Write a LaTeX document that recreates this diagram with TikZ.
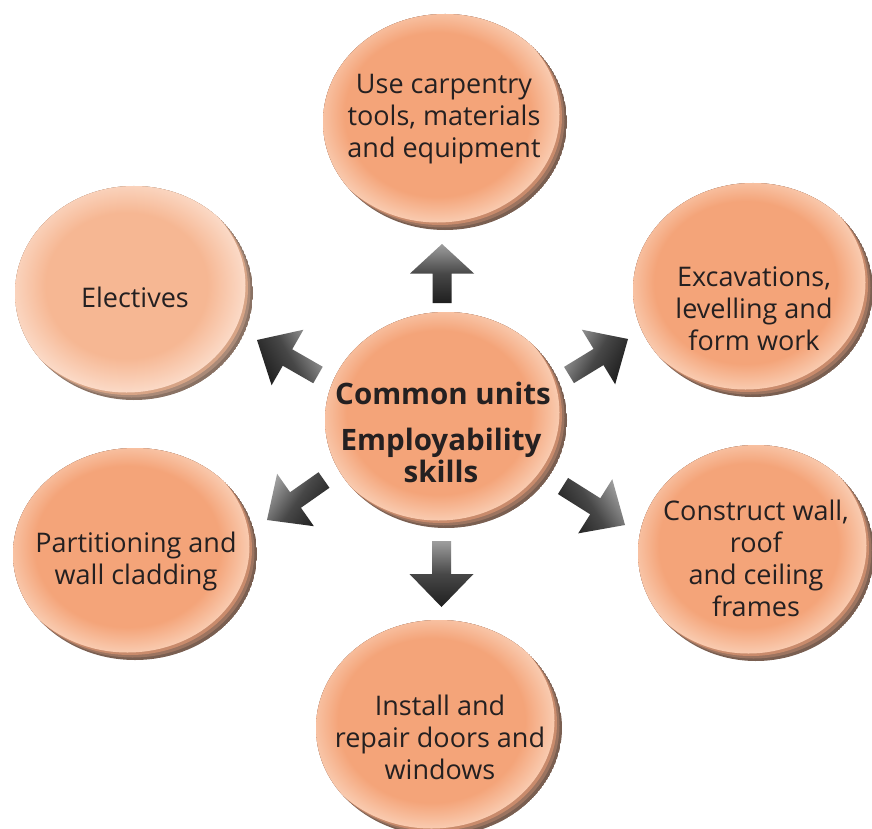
\documentclass[tikz,border=0pt]{standalone}
\usepackage{fontspec}
\setmainfont{Open Sans}
\usetikzlibrary{shapes.geometric,calc}
\definecolor{orbC}{HTML}{F4A479}
\definecolor{orbE}{HTML}{F9CBB0}
\definecolor{orbD}{HTML}{7A5F51}
\definecolor{orbM1}{HTML}{9C7460}
\definecolor{orbM2}{HTML}{C98B6C}
\definecolor{elC}{HTML}{F6B793}
\definecolor{elE}{HTML}{FBDAC7}
\definecolor{elD}{HTML}{8A7264}
\definecolor{elM1}{HTML}{AA8A78}
\definecolor{elM2}{HTML}{D7A486}
\definecolor{txt}{HTML}{242021}
\pgfdeclareradialshading{orbshade}{\pgfpoint{0bp}{0bp}}{color(0bp)=(orbC); color(19bp)=(orbC); color(25bp)=(orbE); color(50bp)=(orbE)}
\pgfdeclareradialshading{elshade}{\pgfpoint{0bp}{0bp}}{color(0bp)=(elC); color(17bp)=(elC); color(25bp)=(elE); color(50bp)=(elE)}
\tikzset{
  lbl/.style={align=center, text=txt, inner sep=0pt, font=\fontsize{27}{32}\selectfont},
  blbl/.style={align=center, text=txt, inner sep=0pt, font=\bfseries\fontsize{29.5}{32}\selectfont},
  orbnode/.style={ellipse, inner sep=0pt},
  arrowshade/.style={top color=black!38, bottom color=black!88, middle color=black!72}
}
% name, x, y, rx, ry, shading, mid colour 1, mid colour 2, dark colour
\newcommand\draworb[9]{%
  \begin{scope}
    \clip (#2,#3) ellipse ({#4pt} and {#5pt});
    \fill[#9] (#2,#3) ellipse ({#4pt} and {#5pt});
    \fill[#7] ($(#2,#3)+(-2.5,-2.5)$) ellipse ({#4pt} and {#5pt});
    \fill[#8] ($(#2,#3)+(-5,-5)$) ellipse ({#4pt} and {#5pt});
    \shade[shading=#6] ($(#2,#3)+(-7.5,-7.5)$) ellipse ({#4pt} and {#5pt});
  \end{scope}
  \node[orbnode, minimum width={2*#4pt}, minimum height={2*#5pt}] (#1) at (#2,#3) {};
}
% name, tail, tip, head fraction, angle
\newcommand\blockarrow[5]{%
  \coordinate (#1t) at #2;
  \coordinate (#1h) at #3;
  \coordinate (#1n) at ($(#1t)!#4!(#1h)$);
  \shade[arrowshade, shading angle=#5]
    ($(#1t)!9.5pt!90:(#1h)$) -- ($(#1n)!9.5pt!90:(#1h)$) -- ($(#1n)!32pt!90:(#1h)$)
    -- (#1h) -- ($(#1n)!32pt!-90:(#1h)$) -- ($(#1n)!9.5pt!-90:(#1h)$)
    -- ($(#1t)!9.5pt!-90:(#1h)$) -- cycle;
}
\begin{document}
\begin{tikzpicture}[x=1pt,y=-1pt]
\useasboundingbox[fill=white] (0,0) rectangle (872,829);
% orbs
\draworb{top}{445}{122}{122}{108}{orbshade}{orbM1}{orbM2}{orbD}
\draworb{elec}{134}{293}{119}{107}{elshade}{elM1}{elM2}{elD}
\draworb{exc}{753}{290}{120}{107}{orbshade}{orbM1}{orbM2}{orbD}
\draworb{ctr}{446}{420}{121}{108}{orbshade}{orbM1}{orbM2}{orbD}
\draworb{part}{135}{554}{122}{106}{orbshade}{orbM1}{orbM2}{orbD}
\draworb{cons}{756}{553}{118}{108}{orbshade}{orbM1}{orbM2}{orbD}
\draworb{inst}{439}{728}{123}{108}{orbshade}{orbM1}{orbM2}{orbD}
% labels
\node[lbl] (topL) at (444,119) {Use carpentry\\tools, materials\\and equipment};
\node[lbl] (elecL) at (135,297) {Electives};
\node[lbl] (excL) at (754,309) {Excavations,\\levelling and\\form work};
\node[lbl] (partL) at (136,561) {Partitioning and\\wall cladding};
\node[lbl] (consL) at (756,558) {Construct wall,\\roof\\and ceiling\\frames};
\node[lbl] (instL) at (440,737) {Install and\\repair doors and\\windows};
\node[blbl] (ctrL1) at (443,393) {Common units};
\node[blbl] (ctrL2) at (441,455) {Employability\\skills};
% arrows
\blockarrow{aUp}{(442,303)}{(442,244)}{0.5}{0}
\blockarrow{aDn}{(441.5,541)}{(441.5,607)}{0.5}{0}
\blockarrow{aUL}{(318,375)}{(257,340)}{0.5}{-60}
\blockarrow{aUR}{(569,375)}{(628,339)}{0.5}{60}
\blockarrow{aDL}{(324,480)}{(267,520)}{0.5}{55}
\blockarrow{aDR}{(563,486)}{(625,525)}{0.52}{-57}
\end{tikzpicture}
\end{document}
